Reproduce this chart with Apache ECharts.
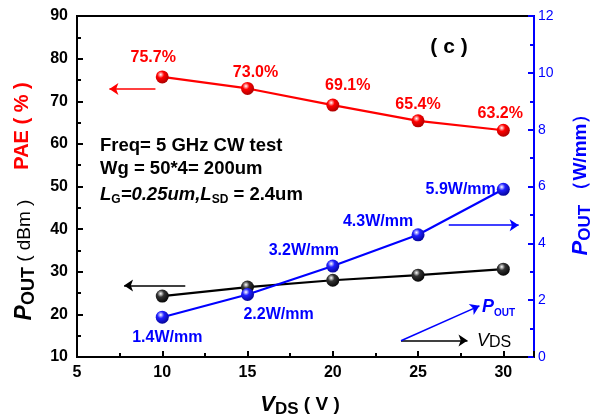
<!DOCTYPE html>
<html><head><meta charset="utf-8">
<script src="https://cdn.jsdelivr.net/npm/echarts@6/dist/echarts.min.js"></script>
<style>html,body{margin:0;padding:0;background:#fff}#c{width:598px;height:418px}</style>
</head><body><div id="c"></div>
<script>
// ---- data ----
const vds = [10, 15, 20, 25, 30];
const pae = [75.7, 73.0, 69.1, 65.4, 63.2];
const poutDbm = [24.3, 26.4, 28.0, 29.2, 30.6];
const poutWmm = [1.4, 2.2, 3.2, 4.3, 5.9];
const infoLines = ['Freq= 5 GHz CW test', 'Wg = 50*4= 200um'];

// ---- styling helpers ----
const FF = '"Liberation Sans", Arial, sans-serif';
const RED = '#ff0000', BLUE = '#0000ff', BLK = '#000000';
function ball(c, dark) {
  return {type: 'radial', x: 0.38, y: 0.32, r: 0.75,
    colorStops: [{offset: 0, color: '#ffffff'}, {offset: 0.35, color: c}, {offset: 1, color: dark}]};
}
const paeLabelOffsets = [[-9, 2], [8, 6], [15, 2], [0, 5], [-3, 5]];
const blueLabelPos = ['bottom', 'bottom', 'top', 'top', 'left'];
const blueLabelOffsets = [[5, 1], [31, 1], [-29, 4], [-40, 6], [4, 0]];

const arrowCommon = {silent: true, symbol: ['none', 'arrow'], symbolSize: 9, animation: false,
  label: {show: false}, emphasis: {disabled: true}};

const chart = echarts.init(document.getElementById('c'), null, {renderer: 'canvas'});
const option = {
  animation: false,
  backgroundColor: '#fff',
  grid: {left: 77, right: 64, top: 16, bottom: 61, show: true, borderColor: BLK, borderWidth: 2, backgroundColor: 'transparent'},
  xAxis: {
    type: 'value', min: 5, max: 31.8, interval: 5,
    axisLine: {lineStyle: {color: BLK, width: 2}},
    axisTick: {inside: true, length: 6, lineStyle: {color: BLK, width: 2}},
    minorTick: {show: true, splitNumber: 2, length: 4, lineStyle: {color: BLK, width: 2}},
    splitLine: {show: false},
    axisLabel: {color: BLK, fontFamily: FF, fontWeight: 'bold', fontSize: 16, margin: 8, showMaxLabel: false}
  },
  yAxis: [{
    type: 'value', min: 10, max: 90, interval: 10, position: 'left',
    axisLine: {show: true, lineStyle: {color: BLK, width: 2}},
    axisTick: {show: true, inside: true, length: 6, lineStyle: {color: BLK, width: 2}},
    minorTick: {show: true, splitNumber: 2, length: 4, lineStyle: {color: BLK, width: 2}},
    splitLine: {show: false},
    axisLabel: {color: BLK, fontFamily: FF, fontWeight: 'bold', fontSize: 16, margin: 9}
  }, {
    type: 'value', min: 0, max: 12, interval: 2, position: 'right',
    axisLine: {show: true, lineStyle: {color: BLUE, width: 2}},
    axisTick: {show: true, inside: true, length: 6, lineStyle: {color: BLUE, width: 2}},
    minorTick: {show: true, splitNumber: 2, length: 4, lineStyle: {color: BLUE, width: 2}},
    splitLine: {show: false},
    axisLabel: {color: BLUE, fontFamily: FF, fontSize: 14, margin: 4}
  }],
  series: [{
    name: 'PAE', type: 'line', yAxisIndex: 0, z: 3,
    data: vds.map((x, i) => ({value: [x, pae[i]],
      label: {offset: paeLabelOffsets[i]}})),
    lineStyle: {color: RED, width: 2.2},
    symbol: 'circle', symbolSize: 13,
    itemStyle: {color: ball(RED, '#a00000')},
    label: {show: true, position: 'top', distance: 7, color: RED, fontFamily: FF, fontWeight: 'bold', fontSize: 16,
      formatter: p => p.value[1].toFixed(1) + '%'},
    markLine: Object.assign({}, arrowCommon, {
      lineStyle: {color: RED, width: 1.5, type: 'solid'},
      data: [[{coord: [9.6, 72.9]}, {coord: [6.9, 72.9]}]]
    })
  }, {
    name: 'POUT dBm', type: 'line', yAxisIndex: 0, z: 3,
    data: vds.map((x, i) => [x, poutDbm[i]]),
    lineStyle: {color: BLK, width: 2.2},
    symbol: 'circle', symbolSize: 13,
    itemStyle: {color: ball('#333333', '#000000')},
    markLine: Object.assign({}, arrowCommon, {
      lineStyle: {color: BLK, width: 1.5, type: 'solid'},
      data: [
        [{coord: [11.35, 26.8]}, {coord: [7.76, 26.8]}],
        [{coord: [24.0, 13.9]}, {coord: [27.9, 13.9]}]
      ]
    })
  }, {
    name: 'POUT W/mm', type: 'line', yAxisIndex: 1, z: 4,
    data: vds.map((x, i) => ({value: [x, poutWmm[i]],
      label: {position: blueLabelPos[i], offset: blueLabelOffsets[i]}})),
    lineStyle: {color: BLUE, width: 2.2},
    symbol: 'circle', symbolSize: 13,
    itemStyle: {color: ball('#2020ff', '#00008a')},
    label: {show: true, distance: 5, color: BLUE, fontFamily: FF, fontWeight: 'bold', fontSize: 16,
      formatter: p => p.value[1].toFixed(1) + 'W/mm'},
    markLine: Object.assign({}, arrowCommon, {
      lineStyle: {color: BLUE, width: 1.5, type: 'solid'},
      data: [
        [{coord: [26.8, 4.64]}, {coord: [30.9, 4.64]}],
        [{coord: [24.0, 0.57]}, {coord: [28.6, 1.8]}]
      ]
    })
  }],
  graphic: [
    {type: 'text', x: 449, y: 47, z: 10, style: {text: '( c )', font: 'bold 21px ' + FF, fill: BLK, align: 'center', verticalAlign: 'middle'}},
    {type: 'text', x: 100, y: 146, z: 10, style: {text: infoLines[0], font: 'bold 18.5px ' + FF, fill: BLK, align: 'left', verticalAlign: 'middle'}},
    {type: 'text', x: 100, y: 169, z: 10, style: {text: infoLines[1], font: 'bold 18.5px ' + FF, fill: BLK, align: 'left', verticalAlign: 'middle'}},
    {type: 'text', x: 100, y: 195, z: 10, style: {
      text: '{i|L}{s|G}{i|=0.25um,L}{s|SD}{n| = 2.4um}', align: 'left', verticalAlign: 'middle',
      rich: {
        i: {font: 'italic bold 18.5px ' + FF, fill: BLK, lineHeight: 22},
        n: {font: 'bold 18.5px ' + FF, fill: BLK, lineHeight: 22},
        s: {font: 'bold 12px ' + FF, fill: BLK, lineHeight: 12, verticalAlign: 'bottom'}
      }}},
    // P_OUT annotation next to arrow
    {type: 'text', x: 482, y: 307, z: 10, style: {
      text: '{p|P}{s|OUT}', align: 'left', verticalAlign: 'middle',
      rich: {p: {font: 'italic bold 18px ' + FF, fill: BLUE, lineHeight: 22},
             s: {font: 'bold 10px ' + FF, fill: BLUE, lineHeight: 11, verticalAlign: 'bottom'}}}},
    {type: 'text', x: 477, y: 341, z: 10, style: {
      text: '{p|V}{s|DS}', align: 'left', verticalAlign: 'middle',
      rich: {p: {font: 'italic 18px ' + FF, fill: BLK, lineHeight: 20},
             s: {font: '16px ' + FF, fill: BLK, lineHeight: 14, verticalAlign: 'bottom'}}}},
    // Left axis names
    {type: 'text', x: 22, y: 126, rotation: Math.PI / 2, z: 10, style: {
      text: 'PAE ( % )', font: 'bold 20px ' + FF, fill: RED, align: 'center', verticalAlign: 'middle'}},
    {type: 'text', x: 25, y: 260, rotation: Math.PI / 2, z: 10, style: {
      text: '{p|P}{s|OUT}{n| ( dBm )}', align: 'center', verticalAlign: 'middle',
      rich: {p: {font: 'italic bold 23px ' + FF, fill: BLK, lineHeight: 26},
             s: {font: 'bold 18px ' + FF, fill: BLK, lineHeight: 18, verticalAlign: 'bottom'},
             n: {font: '19px ' + FF, fill: BLK, lineHeight: 26}}}},
    // Right axis name
    {type: 'text', x: 581, y: 180, rotation: Math.PI / 2, z: 10, style: {
      text: '{p|P}{s|OUT}{n| （W/mm）}', align: 'center', verticalAlign: 'middle',
      rich: {p: {font: 'italic bold 22px ' + FF, fill: BLUE, lineHeight: 26},
             s: {font: 'bold 17px ' + FF, fill: BLUE, lineHeight: 18, verticalAlign: 'bottom'},
             n: {font: 'bold 19px ' + FF, fill: BLUE, lineHeight: 26}}}},
    // X axis name
    {type: 'text', x: 300, y: 405, z: 10, style: {
      text: '{p|V}{s|DS}{n| ( V )}', align: 'center', verticalAlign: 'middle',
      rich: {p: {font: 'italic bold 22px ' + FF, fill: BLK, lineHeight: 26},
             s: {font: 'bold 17px ' + FF, fill: BLK, lineHeight: 18, verticalAlign: 'bottom'},
             n: {font: 'bold 19px ' + FF, fill: BLK, lineHeight: 26}}}}
  ]
};
chart.setOption(option);
</script></body></html>
